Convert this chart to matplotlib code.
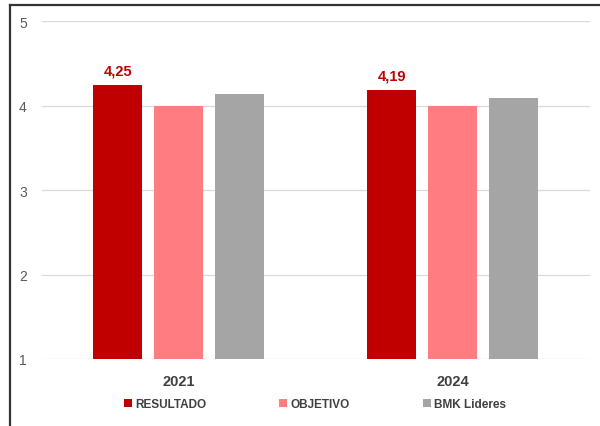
import matplotlib.pyplot as plt
from matplotlib.lines import Line2D
import numpy as np

plt.rcParams['font.family'] = ['Liberation Sans', 'DejaVu Sans']

# Datos del gráfico
anios = ['2021', '2024']
series = ['RESULTADO', 'OBJETIVO', 'BMK Lideres']
resultado = [4.25, 4.19]
objetivo = [4.00, 4.00]
bmk_lideres = [4.14, 4.09]
colores = ['#C00000', '#FF7C80', '#A5A5A5']

fig = plt.figure(figsize=(6, 4.27), dpi=100)
ax = fig.add_axes([0.07, 0.157, 0.913, 0.791])

x = np.arange(len(anios))
paso = 0.2226
ancho = 0.179
valores = [resultado, objetivo, bmk_lideres]
for i, (nombre, vals, color) in enumerate(zip(series, valores, colores)):
    pos = x + (i - 1) * paso
    ax.bar(pos, np.array(vals) - 1, width=ancho, bottom=1, color=color,
           label=nombre, zorder=3)
    if nombre == 'RESULTADO':
        for xp, v in zip(pos, vals):
            ax.text(xp, v + 0.08, f'{v:.2f}'.replace('.', ','), ha='center',
                    va='bottom', color='#C00000', fontsize=10.5,
                    fontweight='bold')

ax.set_ylim(1, 5)
ax.set_xlim(-0.5, 1.5)
ax.set_yticks([1, 2, 3, 4, 5])
ax.set_xticks(x)
ax.set_xticklabels(anios, fontsize=10.5, fontweight='bold', color='#404040')
ax.tick_params(axis='both', length=0)
ax.tick_params(axis='y', labelsize=10, labelcolor='#595959', pad=11)
ax.tick_params(axis='x', pad=11)
ax.grid(axis='y', color='#D9D9D9', linewidth=0.9, zorder=0)
for s in ax.spines.values():
    s.set_visible(False)

ax.legend(loc='upper center', bbox_to_anchor=(0.498, -0.085), ncol=3,
          frameon=False, handlelength=0.7, handleheight=0.7,
          handletextpad=0.25, columnspacing=6.2,
          prop={'size': 8.5, 'weight': 'bold'}, labelcolor='#404040')

# Marco superior e izquierdo
fig.add_artist(Line2D([0.0167, 1.0], [0.986, 0.986], color='#333333',
                      linewidth=1.6))
fig.add_artist(Line2D([0.0167, 0.0167], [0.0, 0.986], color='#333333',
                      linewidth=1.6))

fig.savefig('out.png', dpi=100)
